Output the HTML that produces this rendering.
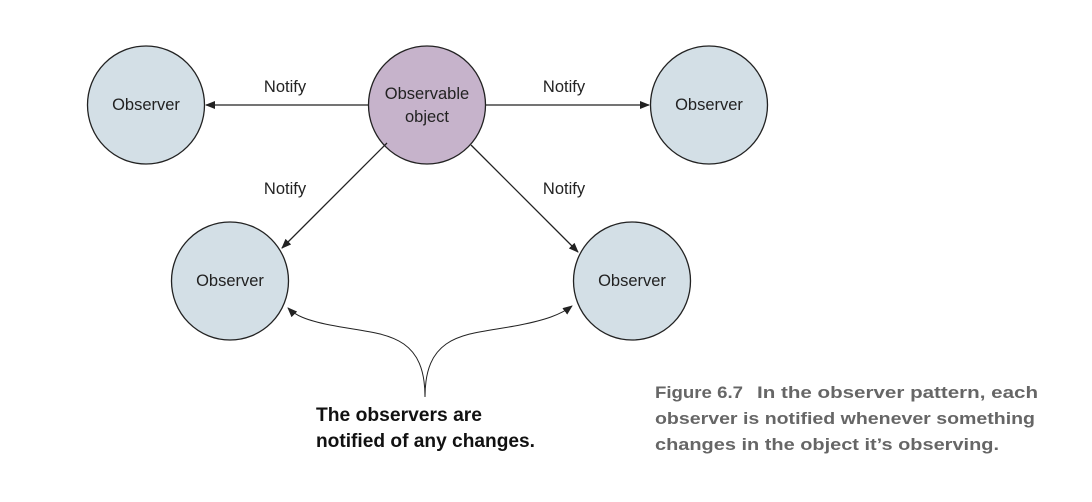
<!DOCTYPE html>
<html><head><style>body{margin:0;background:#fff}svg{display:block}text{white-space:pre}</style></head><body>
<svg width="1092" height="502" viewBox="0 0 1092 502" xmlns="http://www.w3.org/2000/svg" font-family="Liberation Sans, sans-serif">
<defs><marker id="a" markerWidth="10" markerHeight="8" refX="9" refY="4" orient="auto" markerUnits="userSpaceOnUse"><path d="M0,0 L10,4 L0,8 Z" fill="#222"/></marker></defs>
<g stroke="#222" stroke-width="1.3">
<ellipse cx="146" cy="105" rx="58.5" ry="59" fill="#d3dfe6"/>
<ellipse cx="427" cy="105" rx="58.5" ry="59" fill="#c6b3cb"/>
<ellipse cx="709" cy="105" rx="58.5" ry="59" fill="#d3dfe6"/>
<ellipse cx="230" cy="281" rx="58.5" ry="59" fill="#d3dfe6"/>
<ellipse cx="632" cy="281" rx="58.5" ry="59" fill="#d3dfe6"/>
<line x1="368" y1="105" x2="206" y2="105" marker-end="url(#a)"/>
<line x1="486" y1="105" x2="649" y2="105" marker-end="url(#a)"/>
<line x1="387" y1="143" x2="282" y2="248" marker-end="url(#a)"/>
<line x1="471" y1="145" x2="578" y2="252" marker-end="url(#a)"/>
<path d="M425,397 C425,330 380,335 330,325 C305,320 295,315 288,308" fill="none" stroke-width="1" marker-end="url(#a)"/>
<path d="M425,397 C425,330 470,335 520,325 C545,320 560,315 572,306" fill="none" stroke-width="1" marker-end="url(#a)"/>
</g>
<g font-size="16.5" fill="#222" text-anchor="middle">
<text x="146" y="110">Observer</text>
<text x="709" y="110">Observer</text>
<text x="230" y="286">Observer</text>
<text x="632" y="286">Observer</text>
<text x="427" y="99">Observable</text>
<text x="427" y="122">object</text>
<text x="285" y="92">Notify</text>
<text x="564" y="92">Notify</text>
<text x="285" y="194">Notify</text>
<text x="564" y="194">Notify</text>
</g>
<g font-size="19" font-weight="bold" fill="#111">
<text x="316" y="421" textLength="166" lengthAdjust="spacingAndGlyphs">The observers are</text>
<text x="316" y="447" textLength="219" lengthAdjust="spacingAndGlyphs">notified of any changes.</text>
</g>
<g font-size="17" font-weight="bold" fill="#666">
<text x="655" y="398" textLength="88" lengthAdjust="spacingAndGlyphs">Figure 6.7</text>
<text x="757" y="398" textLength="281" lengthAdjust="spacingAndGlyphs">In the observer pattern, each</text>
<text x="655" y="424" textLength="380" lengthAdjust="spacingAndGlyphs">observer is notified whenever something</text>
<text x="655" y="450" textLength="344" lengthAdjust="spacingAndGlyphs">changes in the object it’s observing.</text>
</g>
</svg>
</body></html>
